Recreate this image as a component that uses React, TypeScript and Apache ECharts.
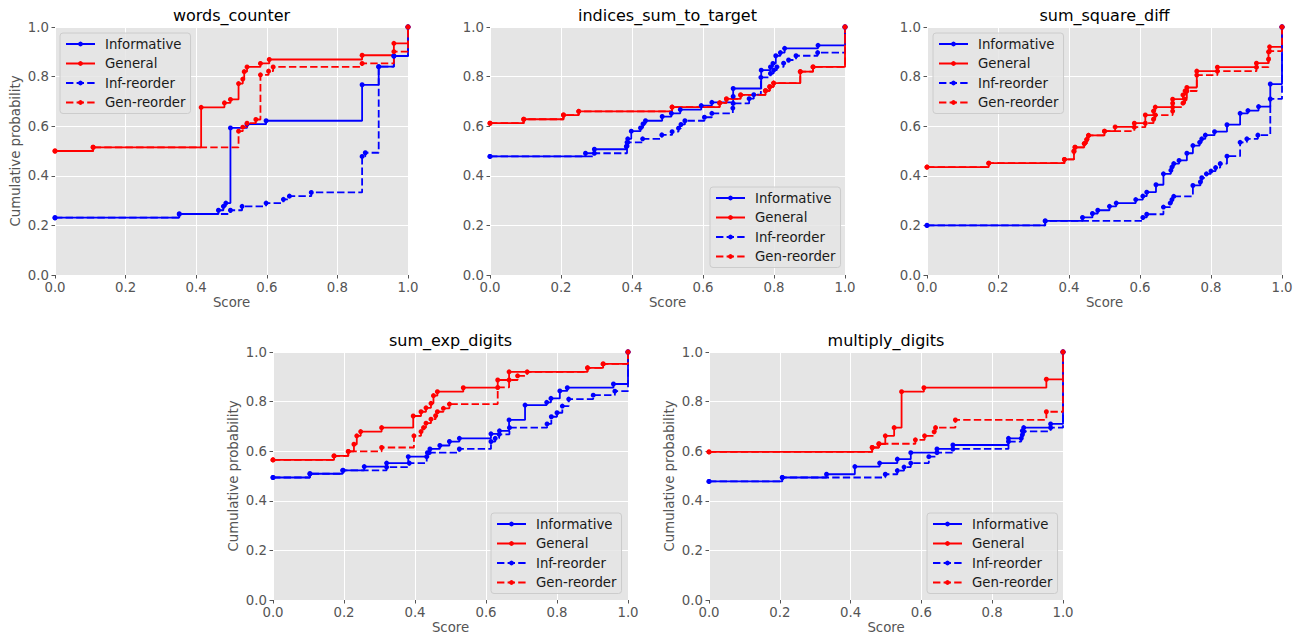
import React, { useEffect, useRef } from 'react';
import * as echarts from 'echarts';

const taskTitles = ['words_counter', 'indices_sum_to_target', 'sum_square_diff', 'sum_exp_digits', 'multiply_digits'];
const seriesNames = ['Informative', 'General', 'Inf-reorder', 'Gen-reorder'];
const xTickValues = [0, 0.2, 0.4, 0.6, 0.8, 1.0];
const yTickValues = [0, 0.2, 0.4, 0.6, 0.8, 1.0];

// words_counter
const wcInformative = [[0, 0.231], [0.352, 0.246], [0.463, 0.261], [0.477, 0.277], [0.484, 0.29], [0.497, 0.593], [0.544, 0.608], [0.598, 0.622], [0.87, 0.767], [0.917, 0.84], [0.96, 0.883], [1, 1]];
const wcGeneral = [[0, 0.5], [0.108, 0.515], [0.414, 0.676], [0.48, 0.694], [0.497, 0.708], [0.52, 0.772], [0.532, 0.79], [0.536, 0.82], [0.544, 0.839], [0.582, 0.853], [0.607, 0.869], [0.87, 0.886], [0.96, 0.934], [1, 1]];
const wcInfReorder = [[0, 0.231], [0.352, 0.246], [0.497, 0.261], [0.53, 0.277], [0.598, 0.29], [0.647, 0.305], [0.664, 0.318], [0.726, 0.333], [0.87, 0.478], [0.879, 0.493], [0.917, 0.84], [0.96, 0.883], [1, 1]];
const wcGenReorder = [[0, 0.5], [0.108, 0.515], [0.52, 0.58], [0.532, 0.596], [0.544, 0.612], [0.569, 0.627], [0.582, 0.807], [0.605, 0.822], [0.618, 0.839], [0.87, 0.853], [0.96, 0.901], [1, 1]];

// indices_sum_to_target
const isInformative = [[0, 0.478], [0.269, 0.491], [0.294, 0.507], [0.384, 0.518], [0.386, 0.535], [0.388, 0.549], [0.398, 0.58], [0.424, 0.593], [0.431, 0.609], [0.438, 0.622], [0.485, 0.639], [0.511, 0.652], [0.536, 0.667], [0.595, 0.683], [0.625, 0.696], [0.685, 0.72], [0.685, 0.752], [0.764, 0.826], [0.79, 0.839], [0.797, 0.853], [0.805, 0.884], [0.818, 0.897], [0.83, 0.914], [0.924, 0.926], [1, 1]];
const isGeneral = [[0, 0.612], [0.095, 0.628], [0.207, 0.645], [0.25, 0.66], [0.513, 0.677], [0.647, 0.694], [0.666, 0.71], [0.706, 0.726], [0.776, 0.743], [0.788, 0.759], [0.799, 0.774], [0.874, 0.82], [0.91, 0.839], [1, 1]];
const isInfReorder = [[0, 0.478], [0.294, 0.491], [0.386, 0.52], [0.388, 0.535], [0.43, 0.549], [0.484, 0.565], [0.513, 0.578], [0.531, 0.592], [0.538, 0.607], [0.549, 0.622], [0.604, 0.636], [0.625, 0.652], [0.684, 0.673], [0.685, 0.692], [0.73, 0.711], [0.743, 0.727], [0.763, 0.797], [0.79, 0.813], [0.799, 0.826], [0.808, 0.839], [0.827, 0.854], [0.841, 0.867], [0.862, 0.884], [0.923, 0.897], [1, 1]];
const isGenReorder = [[0, 0.612], [0.095, 0.628], [0.207, 0.645], [0.25, 0.66], [0.513, 0.677], [0.647, 0.694], [0.666, 0.71], [0.706, 0.726], [0.776, 0.743], [0.788, 0.759], [0.799, 0.774], [0.874, 0.82], [0.91, 0.839], [1, 1]];

// sum_square_diff
const ssInformative = [[0, 0.2], [0.333, 0.218], [0.438, 0.232], [0.466, 0.248], [0.481, 0.261], [0.514, 0.277], [0.533, 0.29], [0.588, 0.304], [0.608, 0.318], [0.619, 0.334], [0.645, 0.364], [0.666, 0.408], [0.687, 0.422], [0.69, 0.435], [0.695, 0.449], [0.71, 0.462], [0.732, 0.491], [0.749, 0.522], [0.768, 0.535], [0.774, 0.549], [0.784, 0.564], [0.81, 0.578], [0.845, 0.606], [0.882, 0.652], [0.904, 0.663], [0.934, 0.679], [0.967, 0.77], [1, 1]];
const ssGeneral = [[0, 0.435], [0.174, 0.451], [0.387, 0.466], [0.414, 0.499], [0.417, 0.515], [0.443, 0.53], [0.45, 0.546], [0.455, 0.563], [0.5, 0.58], [0.53, 0.597], [0.584, 0.612], [0.615, 0.645], [0.638, 0.661], [0.643, 0.677], [0.692, 0.693], [0.692, 0.709], [0.721, 0.726], [0.727, 0.742], [0.732, 0.756], [0.76, 0.822], [0.818, 0.838], [0.928, 0.854], [0.962, 0.9], [0.965, 0.92], [1, 1]];
const ssInfReorder = [[0, 0.2], [0.333, 0.218], [0.608, 0.232], [0.619, 0.245], [0.666, 0.274], [0.685, 0.29], [0.69, 0.304], [0.695, 0.317], [0.749, 0.361], [0.77, 0.375], [0.774, 0.392], [0.787, 0.408], [0.8, 0.419], [0.813, 0.433], [0.826, 0.449], [0.845, 0.479], [0.882, 0.535], [0.901, 0.549], [0.932, 0.564], [0.967, 0.71], [1, 1]];
const ssGenReorder = [[0, 0.435], [0.174, 0.451], [0.387, 0.466], [0.414, 0.499], [0.417, 0.515], [0.443, 0.53], [0.45, 0.546], [0.455, 0.563], [0.5, 0.58], [0.584, 0.596], [0.615, 0.612], [0.638, 0.628], [0.643, 0.645], [0.692, 0.661], [0.692, 0.677], [0.721, 0.693], [0.727, 0.709], [0.732, 0.742], [0.76, 0.806], [0.818, 0.822], [0.928, 0.838], [0.962, 0.87], [0.965, 0.903], [1, 1]];

// sum_exp_digits
const seInformative = [[0, 0.494], [0.104, 0.509], [0.196, 0.523], [0.257, 0.538], [0.32, 0.552], [0.381, 0.578], [0.435, 0.594], [0.442, 0.609], [0.47, 0.623], [0.497, 0.639], [0.525, 0.652], [0.614, 0.67], [0.638, 0.682], [0.665, 0.726], [0.71, 0.786], [0.771, 0.797], [0.783, 0.813], [0.808, 0.843], [0.829, 0.856], [0.959, 0.871], [1, 1]];
const seGeneral = [[0, 0.565], [0.172, 0.581], [0.212, 0.599], [0.228, 0.628], [0.236, 0.662], [0.247, 0.679], [0.306, 0.695], [0.395, 0.742], [0.417, 0.759], [0.431, 0.775], [0.445, 0.793], [0.452, 0.824], [0.463, 0.84], [0.536, 0.856], [0.633, 0.887], [0.665, 0.92], [0.886, 0.936], [0.93, 0.952], [1, 1]];
const seInfReorder = [[0, 0.494], [0.104, 0.509], [0.198, 0.523], [0.32, 0.536], [0.384, 0.552], [0.433, 0.578], [0.44, 0.594], [0.525, 0.609], [0.614, 0.639], [0.626, 0.652], [0.637, 0.668], [0.666, 0.695], [0.772, 0.71], [0.784, 0.739], [0.8, 0.755], [0.815, 0.782], [0.833, 0.81], [0.902, 0.826], [0.963, 0.842], [1, 1]];
const seGenReorder = [[0, 0.565], [0.172, 0.581], [0.212, 0.599], [0.306, 0.615], [0.397, 0.662], [0.417, 0.679], [0.424, 0.695], [0.431, 0.713], [0.445, 0.729], [0.458, 0.743], [0.463, 0.759], [0.48, 0.773], [0.497, 0.79], [0.633, 0.857], [0.665, 0.887], [0.689, 0.904], [0.716, 0.92], [0.886, 0.936], [0.93, 0.952], [1, 1]];

// multiply_digits
const mdInformative = [[0, 0.478], [0.207, 0.494], [0.332, 0.507], [0.412, 0.538], [0.482, 0.552], [0.532, 0.568], [0.57, 0.594], [0.644, 0.609], [0.689, 0.625], [0.846, 0.652], [0.885, 0.682], [0.889, 0.695], [0.965, 0.71], [1, 1]];
const mdGeneral = [[0, 0.597], [0.461, 0.615], [0.48, 0.629], [0.498, 0.662], [0.523, 0.695], [0.544, 0.84], [0.607, 0.856], [0.953, 0.89], [1, 1]];
const mdInfReorder = [[0, 0.478], [0.207, 0.494], [0.498, 0.507], [0.532, 0.522], [0.551, 0.536], [0.57, 0.552], [0.621, 0.578], [0.644, 0.594], [0.689, 0.609], [0.846, 0.639], [0.882, 0.652], [0.885, 0.666], [0.889, 0.68], [0.965, 0.695], [1, 1]];
const mdGenReorder = [[0, 0.597], [0.461, 0.615], [0.48, 0.63], [0.583, 0.646], [0.609, 0.662], [0.636, 0.678], [0.64, 0.695], [0.696, 0.726], [0.953, 0.759], [1, 1]];

const panelData = [
  [wcInformative, wcGeneral, wcInfReorder, wcGenReorder],
  [isInformative, isGeneral, isInfReorder, isGenReorder],
  [ssInformative, ssGeneral, ssInfReorder, ssGenReorder],
  [seInformative, seGeneral, seInfReorder, seGenReorder],
  [mdInformative, mdGeneral, mdInfReorder, mdGenReorder],
];

const FONT = 'DejaVu Sans';

export default function App() {
  const ref = useRef<HTMLDivElement>(null);

  useEffect(() => {
    if (!ref.current) return;
    const chart = echarts.init(ref.current, null, { renderer: 'svg' });

    const boxes = [
      { left: 55, top: 27, width: 353, height: 248 },
      { left: 490, top: 27, width: 355, height: 248 },
      { left: 927, top: 27, width: 355, height: 248 },
      { left: 273, top: 352, width: 355, height: 248 },
      { left: 709, top: 352, width: 354, height: 248 },
    ];
    const showYName = [true, false, false, true, true];
    const legendPos = [
      { left: 60, top: 33 },
      { left: 710, top: 187 },
      { left: 933, top: 33 },
      { left: 491, top: 513 },
      { left: 927, top: 513 },
    ];
    const styles = [
      { color: '#0000FF', dash: 'solid' as any },
      { color: '#FF0000', dash: 'solid' as any },
      { color: '#0000FF', dash: [7.4, 3.2] as any },
      { color: '#FF0000', dash: [7.4, 3.2] as any },
    ];

    const fmt = (v: number) => v.toFixed(1);

    const series: any[] = [];
    panelData.forEach((panel, pi) => {
      panel.forEach((d, si) => {
        series.push({
          type: 'line',
          name: seriesNames[si],
          xAxisIndex: pi,
          yAxisIndex: pi,
          data: d,
          step: 'end',
          symbol: 'circle',
          symbolSize: 5,
          showSymbol: true,
          clip: false,
          color: styles[si].color,
          itemStyle: { color: styles[si].color },
          lineStyle: { color: styles[si].color, width: 1.8, type: styles[si].dash },
          emphasis: { disabled: true },
        });
      });
    });

    const option: any = {
      animation: false,
      backgroundColor: '#ffffff',
      textStyle: { fontFamily: FONT },
      grid: boxes.map((b) => ({
        ...b,
        show: true,
        backgroundColor: '#E5E5E5',
        borderWidth: 0,
        containLabel: false,
      })),
      xAxis: boxes.map((_, i) => ({
        type: 'value',
        gridIndex: i,
        min: xTickValues[0],
        max: xTickValues[xTickValues.length - 1],
        interval: 0.2,
        name: 'Score',
        nameLocation: 'middle',
        nameGap: 21,
        nameTextStyle: { color: '#555555', fontSize: 13.3, fontFamily: FONT },
        axisLine: { show: false },
        axisTick: { show: true, length: 3.5, lineStyle: { color: '#555555', width: 1 } },
        axisLabel: { color: '#555555', fontSize: 13.3, margin: 6, formatter: fmt, fontFamily: FONT },
        splitLine: { show: true, lineStyle: { color: '#FFFFFF', width: 1 } },
      })),
      yAxis: boxes.map((_, i) => ({
        type: 'value',
        gridIndex: i,
        min: yTickValues[0],
        max: yTickValues[yTickValues.length - 1],
        interval: 0.2,
        name: showYName[i] ? 'Cumulative probability' : '',
        nameLocation: 'middle',
        nameGap: 33,
        nameTextStyle: { color: '#555555', fontSize: 13.3, fontFamily: FONT },
        axisLine: { show: false },
        axisTick: { show: true, length: 3.5, lineStyle: { color: '#555555', width: 1 } },
        axisLabel: { color: '#555555', fontSize: 13.3, margin: 6, formatter: fmt, fontFamily: FONT },
        splitLine: { show: true, lineStyle: { color: '#FFFFFF', width: 1 } },
      })),
      legend: legendPos.map((p) => ({
        left: p.left,
        top: p.top,
        orient: 'vertical',
        data: seriesNames,
        selectedMode: false,
        itemWidth: 29,
        itemHeight: 6,
        itemGap: 3.5,
        padding: [3, 5, 3, 5],
        backgroundColor: 'rgba(229,229,229,0.85)',
        borderColor: '#CCCCCC',
        borderWidth: 1,
        borderRadius: 3,
        textStyle: { color: '#1a1a1a', fontSize: 13.3, fontFamily: FONT, lineHeight: 16, padding: [0, 0, 0, 5] },
      })),
      graphic: boxes.map((b, i) => ({
        type: 'text',
        x: b.left + b.width / 2,
        y: b.top - 12,
        silent: true,
        style: {
          text: taskTitles[i],
          fill: '#000000',
          fontSize: 16,
          fontFamily: FONT,
          textAlign: 'center',
          textVerticalAlign: 'middle',
        },
      })),
      series,
    };

    chart.setOption(option);
    return () => chart.dispose();
  }, []);

  return <div ref={ref} style={{ position: 'absolute', left: 0, top: 0, width: 1296, height: 638 }} />;
}
